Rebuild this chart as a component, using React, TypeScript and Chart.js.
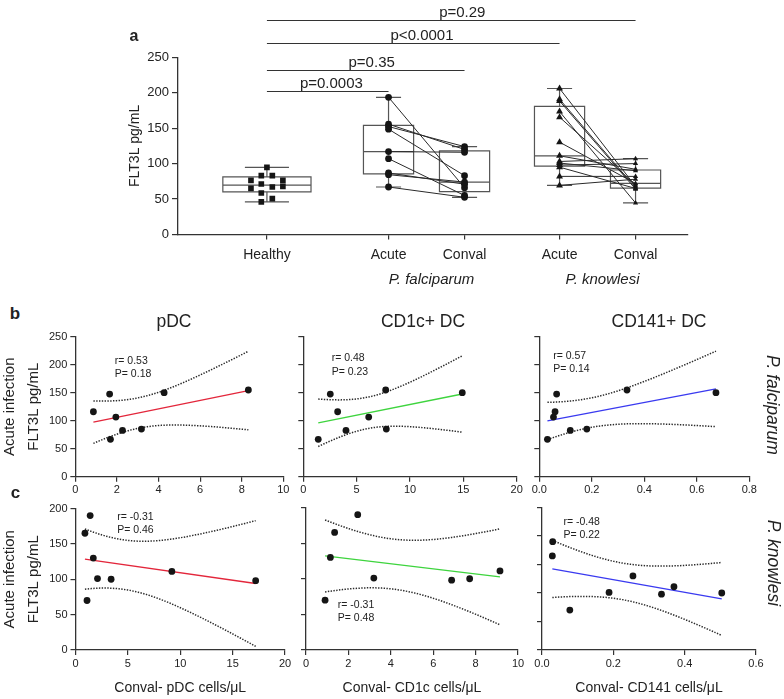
import React, { useEffect, useRef } from 'react';
import { Chart, registerables } from 'chart.js';

Chart.register(...registerables);

const FONT = "'Liberation Sans', Arial, Helvetica, sans-serif";
const INK = '#222222';
const AXIS = '#333333';
const MARK = '#151515';
const PAIR = '#2a2a2a';
const BOX = '#555555';
const RED = '#e3263b';
const GREEN = '#3ed43e';
const BLUE = '#3a3af0';

// ---------------- Panel a data ----------------
const groupLabels = ['Healthy', 'Acute', 'Conval', 'Acute', 'Conval'];
const groupPositions = [0, 1.6, 2.6, 3.85, 4.85];
const speciesNames = ['P. falciparum', 'P. knowlesi'];
const healthyFLT3L = [94.7, 83, 83, 76.4, 76.4, 71.3, 68, 67, 65.1, 58.6, 50.6, 46];
const healthySpread = [0, -0.074, 0.071, -0.21, 0.21, -0.074, 0.21, 0.071, -0.21, -0.074, 0.071, -0.074];
const falciparumAcute = [193.6, 155.7, 152.3, 148.6, 117, 107, 86.8, 84.4, 67];
const falciparumConval = [66, 120, 124, 83, 116, 55, 71, 74, 52.5];
const knowlesiAcute = [206, 190.8, 188.4, 173.4, 165.5, 130.3, 111, 103, 100.8, 98, 95, 82, 69.3];
const knowlesiConval = [68, 66, 64, 44.5, 70, 72, 92, 107, 90, 100, 65, 82, 78];
const comparisonLabels = ['p=0.0003', 'p=0.35', 'p<0.0001', 'p=0.29'];
const comparisonGroups = [1, 2, 3, 4];
const comparisonLevels = [202, 232, 270, 303];

// ---------------- Panels b / c data ----------------
const acuteFalciparumFLT3L = [116, 147.6, 106.5, 66.7, 82.7, 85, 150, 154.8];
const acutePDC = [0.87, 1.65, 1.95, 1.69, 2.27, 3.18, 4.27, 8.32];
const acuteCD1c = [3.22, 2.53, 6.13, 1.4, 4.0, 7.78, 14.9, 7.72];
const acuteCD141 = [0.06, 0.066, 0.054, 0.031, 0.118, 0.181, 0.673, 0.334];
const acuteKnowlesiFLT3L = [165, 190, 130, 101, 100, 70, 111, 98];
const convalPDC = [0.9, 1.4, 1.7, 2.1, 3.4, 1.1, 9.2, 17.2];
const convalCD1c = [1.35, 2.44, 1.15, 3.2, 7.72, 0.9, 9.15, 6.87];
const convalCD141 = [0.029, 0.03, 0.255, 0.188, 0.504, 0.078, 0.37, 0.335];
const correlationR = ['0.53', '0.48', '0.57', '-0.31', '-0.31', '-0.48'];
const correlationP = ['0.18', '0.23', '0.14', '0.46', '0.48', '0.22'];
const panelTitles = ['pDC', 'CD1c+ DC', 'CD141+ DC'];
const convalAxisTitles = ['Conval- pDC cells/μL', 'Conval- CD1c cells/μL', 'Conval- CD141 cells/μL'];
const yAxisTitle = ['Acute infection', 'FLT3L pg/mL'];

// two-sided 95% t critical values by degrees of freedom
const T975 = [0, 12.706, 4.303, 3.182, 2.776, 2.571, 2.447, 2.365, 2.306, 2.262, 2.228, 2.201, 2.179, 2.16, 2.145, 2.131];

function quantile(sorted: number[], p: number) {
  const n = sorted.length;
  const pos = (n + 1) * p;
  if (pos <= 1) return sorted[0];
  if (pos >= n) return sorted[n - 1];
  const lo = Math.floor(pos);
  const f = pos - lo;
  return sorted[lo - 1] + f * (sorted[lo] - sorted[lo - 1]);
}

function regression(xs: number[], ys: number[]) {
  const n = xs.length;
  const mx = xs.reduce((a, b) => a + b, 0) / n;
  const my = ys.reduce((a, b) => a + b, 0) / n;
  let sxx = 0, sxy = 0, syy = 0;
  for (let i = 0; i < n; i++) {
    sxx += (xs[i] - mx) ** 2;
    sxy += (xs[i] - mx) * (ys[i] - my);
    syy += (ys[i] - my) ** 2;
  }
  const b = sxy / sxx;
  const a = my - b * mx;
  const s = Math.sqrt((syy - b * sxy) / (n - 2));
  const t = T975[n - 2];
  const lo = Math.min(...xs);
  const hi = Math.max(...xs);
  const line = [{ x: lo, y: a + b * lo }, { x: hi, y: a + b * hi }];
  const upper: any[] = [];
  const lower: any[] = [];
  const N = 80;
  for (let i = 0; i <= N; i++) {
    const xv = lo + ((hi - lo) * i) / N;
    const yv = a + b * xv;
    const h = t * s * Math.sqrt(1 / n + (xv - mx) ** 2 / sxx);
    upper.push({ x: xv, y: yv + h });
    lower.push({ x: xv, y: yv - h });
  }
  return { line, upper, lower };
}

function geometry(area: any, yW: number, xH: number, padT: number, padR: number, extraB = 1) {
  const left = Math.floor(area.l - yW);
  const top = Math.floor(area.t - padT);
  const width = Math.ceil(area.r + padR) - left;
  const height = Math.ceil(area.b + xH + extraB) - top;
  const padding = {
    left: area.l - yW - left,
    top: area.t - top,
    right: left + width - area.r,
    bottom: top + height - area.b - xH,
  };
  return { left, top, width, height, padding };
}

// ---------------- Panel a ----------------
function buildPanelA() {
  const area = { l: 178, t: 57.3, r: 688, b: 234.5 };
  const yW = 58;
  const xH = 30;
  const g = geometry(area, yW, xH, 57.3, 96, 36);

  const pointBase = {
    showLine: false,
    pointBorderWidth: 0,
    borderWidth: 0,
    pointBackgroundColor: MARK,
    backgroundColor: MARK,
  };
  const pairLine = (x0: number, y0: number, x1: number, y1: number) => ({
    showLine: true,
    data: [{ x: x0, y: y0 }, { x: x1, y: y1 }],
    borderColor: PAIR,
    borderWidth: 1,
    pointRadius: 0,
  });

  const datasets: any[] = [
    { ...pointBase, data: healthyFLT3L.map((v, i) => ({ x: groupPositions[0] + healthySpread[i], y: v })), pointStyle: 'rect', pointRadius: 4 },
    { ...pointBase, data: falciparumAcute.map((v) => ({ x: groupPositions[1], y: v })), pointStyle: 'circle', pointRadius: 3.4 },
    { ...pointBase, data: falciparumConval.map((v) => ({ x: groupPositions[2], y: v })), pointStyle: 'circle', pointRadius: 3.4 },
    { ...pointBase, data: knowlesiAcute.map((v) => ({ x: groupPositions[3], y: v })), pointStyle: 'triangle', pointRadius: 4 },
    { ...pointBase, data: knowlesiConval.map((v) => ({ x: groupPositions[4], y: v })), pointStyle: 'triangle', pointRadius: 3 },
    ...falciparumAcute.map((v, i) => pairLine(groupPositions[1], v, groupPositions[2], falciparumConval[i])),
    ...knowlesiAcute.map((v, i) => pairLine(groupPositions[3], v, groupPositions[4], knowlesiConval[i])),
  ];

  const boxGroups = [
    { values: healthyFLT3L, pos: groupPositions[0], w: 1.16 },
    { values: falciparumAcute, pos: groupPositions[1], w: 0.66 },
    { values: falciparumConval, pos: groupPositions[2], w: 0.66 },
    { values: knowlesiAcute, pos: groupPositions[3], w: 0.66 },
    { values: knowlesiConval, pos: groupPositions[4], w: 0.66 },
  ];

  const boxPlugin = {
    id: 'boxWhisker',
    beforeDatasetsDraw(chart: any) {
      const { ctx, scales } = chart;
      const x = scales.x;
      const y = scales.y;
      ctx.save();
      ctx.strokeStyle = BOX;
      ctx.lineWidth = 1.2;
      boxGroups.forEach((bg) => {
        const s = [...bg.values].sort((a, b) => a - b);
        const q1 = y.getPixelForValue(quantile(s, 0.25));
        const med = y.getPixelForValue(quantile(s, 0.5));
        const q3 = y.getPixelForValue(quantile(s, 0.75));
        const lo = y.getPixelForValue(s[0]);
        const hi = y.getPixelForValue(s[s.length - 1]);
        const cx = x.getPixelForValue(bg.pos);
        const hw = Math.abs(x.getPixelForValue(bg.pos + bg.w / 2) - cx);
        ctx.beginPath();
        ctx.rect(cx - hw, q3, 2 * hw, q1 - q3);
        ctx.moveTo(cx - hw, med);
        ctx.lineTo(cx + hw, med);
        ctx.moveTo(cx, q3);
        ctx.lineTo(cx, hi);
        ctx.moveTo(cx, q1);
        ctx.lineTo(cx, lo);
        ctx.moveTo(cx - hw / 2, hi);
        ctx.lineTo(cx + hw / 2, hi);
        ctx.moveTo(cx - hw / 2, lo);
        ctx.lineTo(cx + hw / 2, lo);
        ctx.stroke();
      });
      ctx.restore();
    },
  };

  const annotatePlugin = {
    id: 'annotateA',
    afterDraw(chart: any) {
      const { ctx, scales } = chart;
      const x = scales.x;
      const y = scales.y;
      ctx.save();
      ctx.strokeStyle = AXIS;
      ctx.lineWidth = 1.2;
      ctx.fillStyle = INK;
      ctx.font = `15px ${FONT}`;
      ctx.textAlign = 'center';
      ctx.textBaseline = 'alphabetic';
      comparisonLabels.forEach((label, i) => {
        const x0 = x.getPixelForValue(groupPositions[0]);
        const x1 = x.getPixelForValue(groupPositions[comparisonGroups[i]]);
        const yy = Math.round(y.getPixelForValue(comparisonLevels[i])) + 0.5;
        ctx.beginPath();
        ctx.moveTo(x0, yy);
        ctx.lineTo(x1, yy);
        ctx.stroke();
        ctx.fillText(label, (x0 + x1) / 2 + 0.03 * (x1 - x0), yy - 4);
      });
      ctx.font = `italic 15px ${FONT}`;
      ctx.textBaseline = 'middle';
      speciesNames.forEach((name, i) => {
        const cx = (x.getPixelForValue(groupPositions[1 + 2 * i]) + x.getPixelForValue(groupPositions[2 + 2 * i])) / 2;
        ctx.fillText(name, cx + 5, x.bottom + 15.5);
      });
      ctx.restore();
    },
  };

  const config: any = {
    type: 'scatter',
    data: { datasets },
    options: {
      responsive: false,
      animation: false,
      events: [],
      layout: { padding: g.padding },
      plugins: { legend: { display: false }, tooltip: { enabled: false } },
      scales: {
        x: {
          type: 'linear',
          min: -1.17,
          max: 5.54,
          afterBuildTicks: (s: any) => {
            s.ticks = groupPositions.map((v) => ({ value: v }));
          },
          afterFit: (s: any) => {
            s.height = xH;
          },
          ticks: {
            autoSkip: false,
            maxRotation: 0,
            padding: 7,
            color: INK,
            font: { family: FONT, size: 14 },
            callback: (_v: any, i: number) => groupLabels[i],
          },
          grid: { display: true, drawOnChartArea: false, drawTicks: true, tickLength: 5, color: AXIS, lineWidth: 1.2 },
          border: { display: true, color: AXIS, width: 1.3 },
        },
        y: {
          type: 'linear',
          min: 0,
          max: 250,
          afterFit: (s: any) => {
            s.width = yW;
          },
          ticks: { stepSize: 50, padding: 3, color: INK, font: { family: FONT, size: 13 } },
          grid: { display: true, drawOnChartArea: false, drawTicks: true, tickLength: 6, color: AXIS, lineWidth: 1.2 },
          border: { display: true, color: AXIS, width: 1.3 },
          title: { display: true, text: 'FLT3L pg/mL', color: INK, font: { family: FONT, size: 14 }, padding: { top: 6.6, bottom: 0 } },
        },
      },
    },
    plugins: [boxPlugin, annotatePlugin],
  };
  return { config, ...g };
}

// ---------------- Panels b / c ----------------
const scatterPanels = [
  { xs: acutePDC, ys: acuteFalciparumFLT3L, xMax: 10, xStep: 2, yMax: 250, dec: 0, color: RED, k: 0, yLabels: true, xTitle: '', area: { l: 75.3, t: 336.7, r: 283.3, b: 476.7 }, stat: { x: 1.9, y: 207 } },
  { xs: acuteCD1c, ys: acuteFalciparumFLT3L, xMax: 20, xStep: 5, yMax: 250, dec: 0, color: GREEN, k: 1, yLabels: false, xTitle: '', area: { l: 303.3, t: 336.7, r: 516.7, b: 476.7 }, stat: { x: 2.66, y: 211 } },
  { xs: acuteCD141, ys: acuteFalciparumFLT3L, xMax: 0.8, xStep: 0.2, yMax: 250, dec: 1, color: BLUE, k: 2, yLabels: false, xTitle: '', area: { l: 539.3, t: 336.7, r: 749.3, b: 476.7 }, stat: { x: 0.053, y: 215.5 } },
  { xs: convalPDC, ys: acuteKnowlesiFLT3L, xMax: 20, xStep: 5, yMax: 200, dec: 0, color: RED, k: 3, yLabels: true, xTitle: convalAxisTitles[0], area: { l: 75.5, t: 508.5, r: 285, b: 650 }, stat: { x: 3.98, y: 188 } },
  { xs: convalCD1c, ys: acuteKnowlesiFLT3L, xMax: 10, xStep: 2, yMax: 200, dec: 0, color: GREEN, k: 4, yLabels: false, xTitle: convalAxisTitles[1], area: { l: 306, t: 507.5, r: 518, b: 650 }, stat: { x: 1.5, y: 63.4 } },
  { xs: convalCD141, ys: acuteKnowlesiFLT3L, xMax: 0.6, xStep: 0.2, yMax: 250, dec: 1, color: BLUE, k: 5, yLabels: false, xTitle: convalAxisTitles[2], area: { l: 542, t: 507.5, r: 756, b: 650 }, stat: { x: 0.06, y: 225 } },
];

const statPlugin = {
  id: 'statText',
  afterDatasetsDraw(chart: any, _args: any, opts: any) {
    if (!opts || !opts.text) return;
    const { ctx, scales } = chart;
    const px = scales.x.getPixelForValue(opts.x);
    const py = scales.y.getPixelForValue(opts.y);
    ctx.save();
    ctx.font = `10.5px ${FONT}`;
    ctx.fillStyle = INK;
    ctx.textAlign = 'left';
    ctx.textBaseline = 'middle';
    ctx.fillText(opts.text, px, py);
    ctx.fillText(opts.text2, px, py + 13.3);
    ctx.restore();
  },
};

function buildScatter(p: any) {
  const yW = p.yLabels ? p.area.l + 2 : 10;
  const xH = p.xTitle ? 688 + 8.4 - p.area.b : 26;
  const g = geometry(p.area, yW, xH, 12, 14);
  const fit = regression(p.xs, p.ys);
  const tickFmt = (v: any) => (p.dec ? Number(v).toFixed(p.dec) : String(Math.round(Number(v) * 1000) / 1000));

  const datasets: any[] = [
    {
      data: p.xs.map((x: number, i: number) => ({ x, y: p.ys[i] })),
      showLine: false,
      pointRadius: 3.4,
      pointBorderWidth: 0,
      borderWidth: 0,
      pointBackgroundColor: MARK,
      backgroundColor: MARK,
    },
    { data: fit.line, showLine: true, borderColor: p.color, borderWidth: 1.3, pointRadius: 0 },
    { data: fit.upper, showLine: true, borderColor: '#2b2b2b', borderWidth: 1.5, borderDash: [1.4, 1.4], pointRadius: 0 },
    { data: fit.lower, showLine: true, borderColor: '#2b2b2b', borderWidth: 1.5, borderDash: [1.4, 1.4], pointRadius: 0 },
  ];

  const config: any = {
    type: 'scatter',
    data: { datasets },
    options: {
      responsive: false,
      animation: false,
      events: [],
      layout: { padding: g.padding },
      plugins: {
        legend: { display: false },
        tooltip: { enabled: false },
        statText: { x: p.stat.x, y: p.stat.y, text: `r= ${correlationR[p.k]}`, text2: `P= ${correlationP[p.k]}` },
      },
      scales: {
        x: {
          type: 'linear',
          min: 0,
          max: p.xMax,
          afterFit: (s: any) => {
            s.height = xH;
          },
          ticks: { stepSize: p.xStep, autoSkip: false, maxRotation: 0, padding: 2, color: INK, font: { family: FONT, size: 11 }, callback: tickFmt },
          grid: { display: true, drawOnChartArea: false, drawTicks: true, tickLength: 5, color: AXIS, lineWidth: 1.2 },
          border: { display: true, color: AXIS, width: 1.3 },
          title: p.xTitle
            ? { display: true, text: p.xTitle, color: INK, font: { family: FONT, size: 14 }, padding: { top: 0, bottom: 0 } }
            : { display: false },
        },
        y: {
          type: 'linear',
          min: 0,
          max: p.yMax,
          afterFit: (s: any) => {
            s.width = yW;
          },
          ticks: { stepSize: 50, display: p.yLabels, padding: 3, color: INK, font: { family: FONT, size: 11 } },
          grid: { display: true, drawOnChartArea: false, drawTicks: true, tickLength: 5, color: AXIS, lineWidth: 1.2 },
          border: { display: true, color: AXIS, width: 1.3 },
          title: p.yLabels
            ? { display: true, text: yAxisTitle, color: INK, font: { family: FONT, size: 15, lineHeight: 1.6 }, padding: { top: 0, bottom: 0 } }
            : { display: false },
        },
      },
    },
    plugins: [statPlugin],
  };
  return { config, ...g };
}

function ChartCanvas({ spec }: { spec: any }) {
  const ref = useRef<HTMLCanvasElement>(null);
  useEffect(() => {
    const chart = new Chart(ref.current as HTMLCanvasElement, spec.config);
    return () => chart.destroy();
  }, []);
  return (
    <canvas
      ref={ref}
      width={spec.width}
      height={spec.height}
      style={{ position: 'absolute', left: spec.left, top: spec.top, width: spec.width, height: spec.height }}
    />
  );
}

function Label({ text, x, y, size, bold, italic, rotate }: any) {
  return (
    <div
      style={{
        position: 'absolute',
        left: x,
        top: y,
        transform: `translate(-50%, -50%)${rotate ? ` rotate(${rotate}deg)` : ''}`,
        font: `${italic ? 'italic ' : ''}${bold ? 'bold ' : ''}${size}px ${FONT}`,
        color: INK,
        whiteSpace: 'nowrap',
        lineHeight: 1,
      }}
    >
      {text}
    </div>
  );
}

export default function App() {
  useEffect(() => {
    document.body.style.margin = '0';
  }, []);
  const panelA = buildPanelA();
  const scatters = scatterPanels.map(buildScatter);
  return (
    <div style={{ position: 'absolute', left: 0, top: 0, width: 784, height: 699, background: '#ffffff', overflow: 'hidden' }}>
      <ChartCanvas spec={panelA} />
      {scatters.map((s, i) => (
        <ChartCanvas key={i} spec={s} />
      ))}
      <Label text="a" x={134} y={36} size={16} bold />
      <Label text="b" x={15} y={313} size={17} bold />
      <Label text="c" x={15.5} y={492} size={17} bold />
      <Label text={panelTitles[0]} x={174} y={322} size={17.5} />
      <Label text={panelTitles[1]} x={423} y={322} size={17.5} />
      <Label text={panelTitles[2]} x={659} y={322} size={17.5} />
      <Label text={speciesNames[0]} x={772} y={405} size={17.5} italic rotate={90} />
      <Label text={speciesNames[1]} x={773} y={563} size={17.5} italic rotate={90} />
    </div>
  );
}
